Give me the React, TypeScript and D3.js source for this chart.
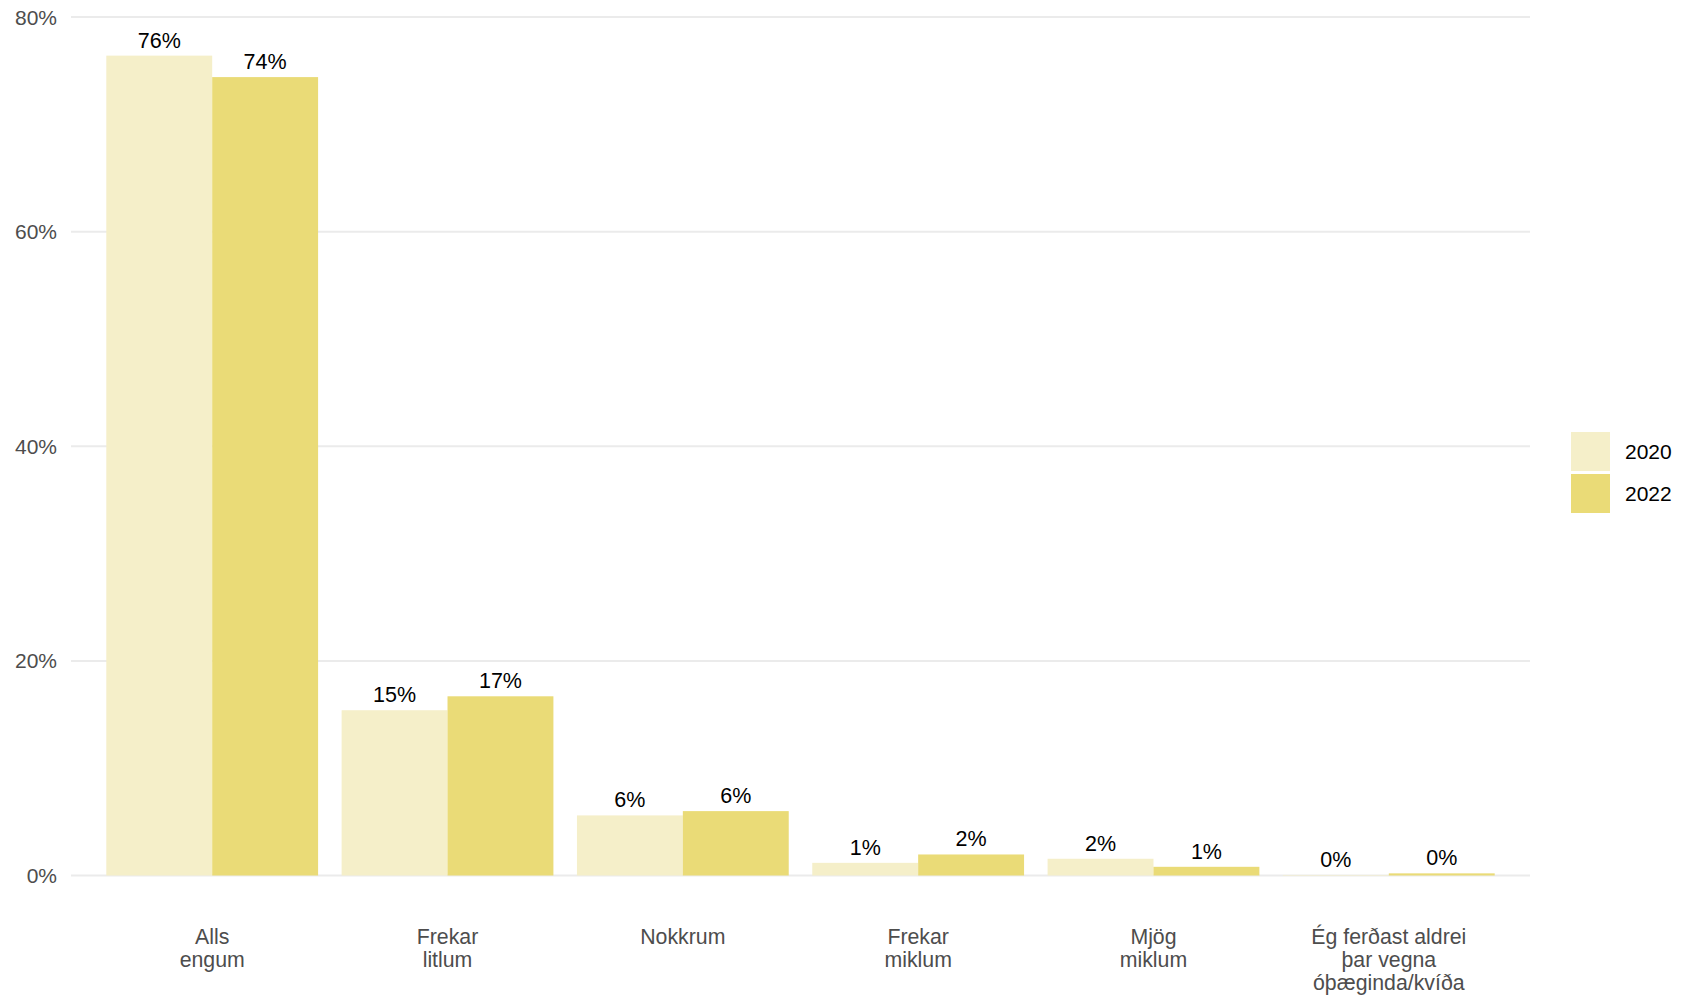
import React from "react";
import * as d3 from "d3";

const categories: string[][] = [
  ["Alls", "engum"],
  ["Frekar", "litlum"],
  ["Nokkrum"],
  ["Frekar", "miklum"],
  ["Mjög", "miklum"],
  ["Ég ferðast aldrei", "þar vegna", "óþæginda/kvíða"],
];
const series = ["2020", "2022"];
const values2020 = [76.4, 15.4, 5.6, 1.18, 1.56, 0.05];
const values2022 = [74.4, 16.7, 6.0, 1.96, 0.81, 0.2];
const yTicks = [0, 20, 40, 60, 80];
const colors = ["#F5EFC9", "#EADB77"];

const W = 1688;
const H = 998;
const plotLeft = 71;
const plotRight = 1530;
const yTop = 17;
const yBottom = 875.5;
const FONT = "'Liberation Sans', Arial, Helvetica, sans-serif";

export default function App() {
  const keys = categories.map((c) => c.join(" "));
  const x = d3
    .scaleBand<string>()
    .domain(keys)
    .range([plotLeft, plotRight])
    .paddingInner(0.1)
    .paddingOuter(0.15);
  const xInner = d3.scaleBand<string>().domain(series).range([0, x.bandwidth()]);
  const y = d3.scaleLinear().domain([0, 80]).range([yBottom, yTop]);
  const data = [values2020, values2022];

  return (
    <svg
      width={W}
      height={H}
      style={{ position: "absolute", left: 0, top: 0, background: "#fff" }}
      fontFamily={FONT}
    >
      {yTicks.map((t) => (
        <g key={t}>
          <line x1={plotLeft} x2={plotRight} y1={y(t)} y2={y(t)} stroke="#EBEBEB" strokeWidth={2} />
          <text x={57} y={y(t)} dy="0.36em" textAnchor="end" fontSize={21} fill="#4D4D4D">
            {t}%
          </text>
        </g>
      ))}
      {keys.map((k, i) => (
        <g key={k}>
          {series.map((s, j) => {
            const v = data[j][i];
            const bx = (x(k) as number) + (xInner(s) as number);
            return (
              <g key={s}>
                <rect x={bx} y={y(v)} width={xInner.bandwidth()} height={yBottom - y(v)} fill={colors[j]} />
                <text
                  x={bx + xInner.bandwidth() / 2}
                  y={y(v) - 8}
                  textAnchor="middle"
                  fontSize={21.5}
                  fill="#000"
                >
                  {Math.round(v)}%
                </text>
              </g>
            );
          })}
          {categories[i].map((line, li) => (
            <text
              key={li}
              x={(x(k) as number) + x.bandwidth() / 2}
              y={944 + li * 22.8}
              textAnchor="middle"
              fontSize={21.3}
              fill="#4D4D4D"
            >
              {line}
            </text>
          ))}
        </g>
      ))}
      {series.map((s, j) => (
        <g key={s}>
          <rect x={1571} y={432 + j * 42} width={39} height={39} fill={colors[j]} />
          <text x={1625} y={432 + j * 42 + 19.5} dy="0.36em" fontSize={21} fill="#000">
            {s}
          </text>
        </g>
      ))}
    </svg>
  );
}
